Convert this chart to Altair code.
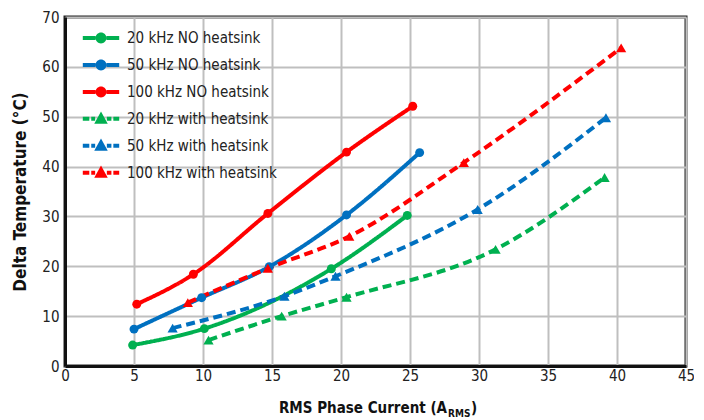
import altair as alt
import pandas as pd

FONT = "Liberation Sans Narrow, DejaVu Sans Condensed, sans-serif"

series = ["20 kHz NO heatsink", "50 kHz NO heatsink", "100 kHz NO heatsink",
          "20 kHz with heatsink", "50 kHz with heatsink", "100 kHz with heatsink"]
colors = ["#00B050", "#0070C0", "#FF0000", "#00B050", "#0070C0", "#FF0000"]

x_20_no = [4.9, 10.1, 19.3, 24.8]
y_20_no = [4.2, 7.5, 19.5, 30.2]
x_50_no = [5.0, 9.9, 14.8, 20.4, 25.7]
y_50_no = [7.4, 13.7, 19.9, 30.3, 42.8]
x_100_no = [5.2, 9.3, 14.7, 20.4, 25.2]
y_100_no = [12.4, 18.4, 30.6, 42.9, 52.1]
x_20_hs = [10.4, 15.7, 20.4, 31.2, 39.1]
y_20_hs = [5.2, 10.0, 13.8, 23.4, 37.8]
x_50_hs = [7.8, 15.9, 19.6, 29.9, 39.2]
y_50_hs = [7.6, 14.0, 18.0, 31.4, 49.8]
x_100_hs = [8.9, 14.7, 20.6, 28.9, 40.3]
y_100_hs = [12.7, 19.6, 26.0, 40.8, 63.8]

x_ticks = list(range(0, 46, 5))
y_ticks = list(range(0, 71, 10))
x_title_parts = ["RMS Phase Current (A", "RMS", ")"]
y_title = "Delta Temperature (°C)"

groups = [
    (series[0], x_20_no, y_20_no, "no"),
    (series[1], x_50_no, y_50_no, "no"),
    (series[2], x_100_no, y_100_no, "no"),
    (series[3], x_20_hs, y_20_hs, "hs"),
    (series[4], x_50_hs, y_50_hs, "hs"),
    (series[5], x_100_hs, y_100_hs, "hs"),
]
rows = []
for name, xs, ys, hs in groups:
    for xv, yv in zip(xs, ys):
        rows.append({"series": name, "current": xv, "temp": yv, "heatsink": hs})
df = pd.DataFrame(rows)

# legend symbols: line + marker (solid/circle, dashed/triangle)
circle_sym = ("M-1.4,-0.15H-0.42V0.15H-1.4Z M0.42,-0.15H1.4V0.15H0.42Z "
              "M0.42,0A0.42,0.42,0,1,1,-0.42,0A0.42,0.42,0,1,1,0.42,0Z")
tri_sym = ("M-1.4,-0.15H-0.9V0.15H-1.4Z M-0.75,-0.15H-0.45V0.15H-0.75Z "
           "M0.45,-0.15H0.8V0.15H0.45Z M0.95,-0.15H1.4V0.15H0.95Z "
           "M0,-0.55L0.52,0.38L-0.52,0.38Z")

xenc = alt.X("current:Q", scale=alt.Scale(domain=[0, 45], nice=False),
             axis=alt.Axis(values=x_ticks, title=None, ticks=False, labelPadding=2,
                           labelFlush=False,
                           labelFont=FONT, labelFontSize=15, labelColor="#222",
                           gridColor="#BFBFBF", gridWidth=2, domainColor="#111",
                           domainWidth=3))
yenc = alt.Y("temp:Q", scale=alt.Scale(domain=[0, 70], nice=False),
             axis=alt.Axis(values=y_ticks, title=y_title, ticks=False, labelPadding=6,
                           labelFlush=False,
                           labelFont=FONT, labelFontSize=15, labelColor="#222",
                           titleFont=FONT, titleFontSize=17, titleFontWeight="bold",
                           titleColor="#111", titlePadding=12,
                           gridColor="#BFBFBF", gridWidth=2, domainColor="#111",
                           domainWidth=3))

base = alt.Chart(df)


def cscale(dom=series, rng=colors):
    return alt.Scale(domain=list(dom), range=list(rng))


lines = base.mark_line(interpolate="monotone", strokeWidth=4).encode(
    x=xenc, y=yenc,
    color=alt.Color("series:N", scale=cscale(), legend=None),
    strokeDash=alt.StrokeDash("series:N", scale=alt.Scale(
        domain=series, range=[[1, 0], [1, 0], [1, 0], [9, 5], [9, 5], [9, 5]]), legend=None),
    detail="series:N",
)

circles = base.transform_filter(alt.datum.heatsink == "no").mark_point(
    filled=True, shape="circle", size=80, opacity=1).encode(
    x="current:Q", y="temp:Q",
    color=alt.Color("series:N", scale=cscale(), legend=None))

triangles = base.transform_filter(alt.datum.heatsink == "hs").mark_point(
    filled=True, shape="triangle-up", size=105, opacity=1).encode(
    x="current:Q", y="temp:Q",
    color=alt.Color("series:N", scale=cscale(), legend=None))


def make_leg(sym, ly):
    return alt.Legend(title=None, orient="none", legendX=18, legendY=ly, padding=0,
                      symbolType=sym, symbolSize=676, symbolStrokeWidth=0,
                      symbolOpacity=1, symbolOffset=5, labelOffset=13, rowPadding=6,
                      labelFont=FONT, labelFontSize=15, labelColor="#222",
                      labelLimit=300)


ghost_no = base.transform_filter(alt.datum.heatsink == "no").mark_point(
    filled=True, opacity=0).encode(
    x="current:Q", y="temp:Q",
    color=alt.Color("series:N", scale=cscale(series[:3], colors[:3]),
                    legend=make_leg(circle_sym, 8)),
)
ghost_hs = base.transform_filter(alt.datum.heatsink == "hs").mark_point(
    filled=True, opacity=0).encode(
    x="current:Q", y="temp:Q",
    color=alt.Color("series:N", scale=cscale(series[3:], colors[3:]),
                    legend=make_leg(tri_sym, 88.7)),
)

t_main = alt.Chart(pd.DataFrame({"t": [x_title_parts[0]]})).mark_text(
    font=FONT, fontSize=15, fontWeight="bold", color="#111", align="right",
    baseline="alphabetic").encode(x=alt.value(382), y=alt.value(396), text="t:N")
t_sub = alt.Chart(pd.DataFrame({"t": [x_title_parts[1]]})).mark_text(
    font=FONT, fontSize=10, fontWeight="bold", color="#111", align="left",
    baseline="alphabetic").encode(x=alt.value(383), y=alt.value(400), text="t:N")
t_end = alt.Chart(pd.DataFrame({"t": [x_title_parts[2]]})).mark_text(
    font=FONT, fontSize=15, fontWeight="bold", color="#111", align="left",
    baseline="alphabetic").encode(x=alt.value(406), y=alt.value(396), text="t:N")

chart = alt.layer(lines, circles, triangles, ghost_no, ghost_hs,
                  t_main, t_sub, t_end).resolve_scale(
    color="independent"
).resolve_legend(color="independent").properties(
    width=621, height=349,
    padding={"left": 57, "top": 9, "right": 8, "bottom": 54},
    autosize=alt.AutoSizeParams(type="none"),
    background="white",
).configure_view(stroke="#222", strokeWidth=3)

chart.save("out.html", embed_options={"renderer": "svg", "actions": False})
